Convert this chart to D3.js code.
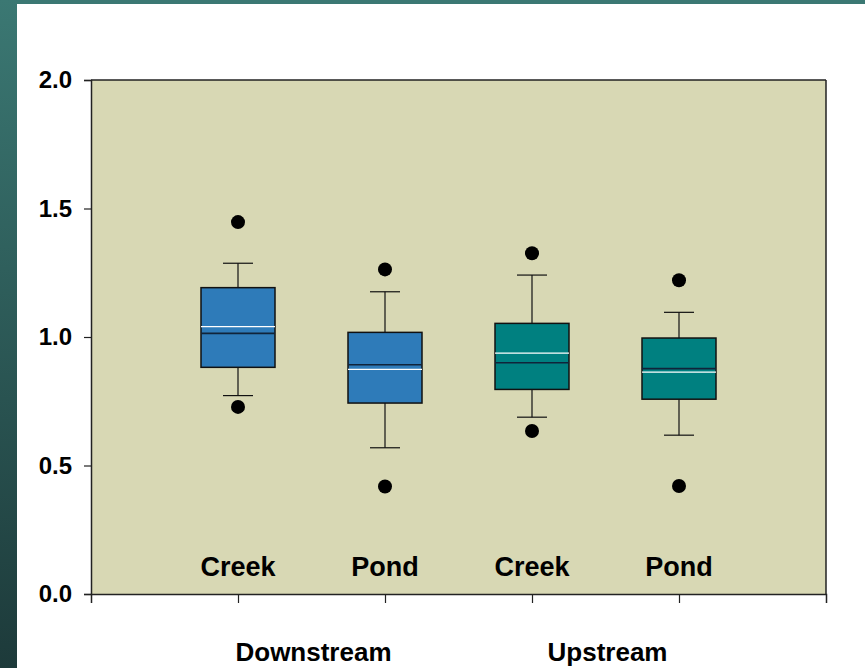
<!DOCTYPE html>
<html>
<head>
<meta charset="utf-8">
<script src="https://cdn.jsdelivr.net/npm/d3@7"></script>
<style>
  html, body { margin: 0; padding: 0; background: #ffffff; }
  svg { display: block; }
  text { font-family: Arial, "Liberation Sans", Helvetica, sans-serif; font-weight: bold; fill: #000; }
</style>
</head>
<body>
<svg id="chart" width="865" height="668"></svg>
<script>
// Site categories, in drawing order
const categories = ["Creek", "Pond", "Creek", "Pond"];
const groups = ["Downstream", "Upstream"];
const boxColors = ["#2e7bb9", "#2e7bb9", "#008080", "#008080"];

// Box statistics per category
const whiskerLow  = [0.772, 0.569, 0.688, 0.618];
const q1          = [0.882, 0.743, 0.796, 0.758];
const medians     = [1.014, 0.892, 0.900, 0.877];
const means       = [1.040, 0.874, 0.937, 0.863];
const q3          = [1.192, 1.018, 1.053, 0.996];
const whiskerHigh = [1.287, 1.176, 1.241, 1.096];
const outlierLow  = [0.728, 0.418, 0.634, 0.420];
const outlierHigh = [1.447, 1.263, 1.326, 1.221];

const yTicks = [0, 0.5, 1.0, 1.5, 2.0];

const svg = d3.select("#chart");
const W = 865, H = 668;

// Slide-style frame: teal strip on the left and top edges
const defs = svg.append("defs");
const grad = defs.append("linearGradient").attr("id", "edge").attr("x1", 0).attr("y1", 0).attr("x2", 0).attr("y2", 1);
grad.append("stop").attr("offset", "0%").attr("stop-color", "#3b7873");
grad.append("stop").attr("offset", "100%").attr("stop-color", "#1d3a3a");
svg.append("rect").attr("x", 0).attr("y", 0).attr("width", W).attr("height", 4).attr("fill", "#3b7873");
svg.append("rect").attr("x", 0).attr("y", 0).attr("width", 17).attr("height", H).attr("fill", "url(#edge)");

const plot = { left: 91, right: 826, top: 80, bottom: 594 };

const x = d3.scaleLinear().domain([0, categories.length + 1]).range([plot.left, plot.right]);
const y = d3.scaleLinear().domain([0, 2]).range([plot.bottom, plot.top]);

// Plot background
svg.append("rect")
  .attr("x", plot.left).attr("y", plot.top)
  .attr("width", plot.right - plot.left).attr("height", plot.bottom - plot.top)
  .attr("fill", "#d8d8b4");

const data = categories.map((c, i) => ({
  cat: c, i: i + 1, color: boxColors[i],
  wl: whiskerLow[i], q1: q1[i], med: medians[i], mean: means[i], q3: q3[i], wh: whiskerHigh[i],
  ol: outlierLow[i], oh: outlierHigh[i]
}));

const boxW = 74, capW = 30;
const g = svg.append("g");

const box = g.selectAll("g.box").data(data).join("g").attr("class", "box");

// Whiskers
box.append("line")
  .attr("x1", d => x(d.i)).attr("x2", d => x(d.i))
  .attr("y1", d => y(d.wh)).attr("y2", d => y(d.q3))
  .attr("stroke", "#111").attr("stroke-width", 1.2);
box.append("line")
  .attr("x1", d => x(d.i)).attr("x2", d => x(d.i))
  .attr("y1", d => y(d.q1)).attr("y2", d => y(d.wl))
  .attr("stroke", "#111").attr("stroke-width", 1.2);
// Whisker caps
box.append("line")
  .attr("x1", d => x(d.i) - capW / 2).attr("x2", d => x(d.i) + capW / 2)
  .attr("y1", d => y(d.wh)).attr("y2", d => y(d.wh))
  .attr("stroke", "#111").attr("stroke-width", 1.2);
box.append("line")
  .attr("x1", d => x(d.i) - capW / 2).attr("x2", d => x(d.i) + capW / 2)
  .attr("y1", d => y(d.wl)).attr("y2", d => y(d.wl))
  .attr("stroke", "#111").attr("stroke-width", 1.2);

// Boxes
box.append("rect")
  .attr("x", d => x(d.i) - boxW / 2).attr("width", boxW)
  .attr("y", d => y(d.q3)).attr("height", d => y(d.q1) - y(d.q3))
  .attr("fill", d => d.color).attr("stroke", "#111").attr("stroke-width", 1.5);

// Median (dark) and mean (white) lines
box.append("line")
  .attr("x1", d => x(d.i) - boxW / 2).attr("x2", d => x(d.i) + boxW / 2)
  .attr("y1", d => y(d.med)).attr("y2", d => y(d.med))
  .attr("stroke", "#10243a").attr("stroke-width", 1.6);
box.append("line")
  .attr("x1", d => x(d.i) - boxW / 2).attr("x2", d => x(d.i) + boxW / 2)
  .attr("y1", d => y(d.mean)).attr("y2", d => y(d.mean))
  .attr("stroke", "#ffffff").attr("stroke-width", 1.2);

// Outliers
box.append("circle").attr("cx", d => x(d.i)).attr("cy", d => y(d.oh)).attr("r", 7).attr("fill", "#000");
box.append("circle").attr("cx", d => x(d.i)).attr("cy", d => y(d.ol)).attr("r", 7).attr("fill", "#000");

// Category labels inside the plot
box.append("text")
  .attr("x", d => x(d.i)).attr("y", 576)
  .attr("text-anchor", "middle").attr("font-size", 27)
  .text(d => d.cat);

// Frame: top and right borders
svg.append("line").attr("x1", plot.left).attr("x2", plot.right).attr("y1", plot.top).attr("y2", plot.top)
  .attr("stroke", "#222").attr("stroke-width", 1.5);
svg.append("line").attr("x1", plot.right).attr("x2", plot.right).attr("y1", plot.top).attr("y2", plot.bottom)
  .attr("stroke", "#222").attr("stroke-width", 1.5);

// Y axis
const yAxis = svg.append("g").attr("transform", `translate(${plot.left},0)`)
  .call(d3.axisLeft(y).tickValues(yTicks).tickFormat(d3.format(".1f")).tickSize(7).tickPadding(12));
yAxis.select(".domain").attr("stroke", "#222").attr("stroke-width", 1.5);
yAxis.selectAll(".tick line").attr("stroke", "#222").attr("stroke-width", 1.2);
yAxis.selectAll(".tick text").attr("font-size", 24).attr("font-weight", "bold").attr("fill", "#000");

// X axis (ticks below the plot)
const xAxis = svg.append("g").attr("transform", `translate(0,${plot.bottom})`)
  .call(d3.axisBottom(x).tickValues(d3.range(1, categories.length + 1)).tickFormat("").tickSize(9).tickSizeOuter(9));
xAxis.select(".domain").attr("stroke", "#222").attr("stroke-width", 1.5);
xAxis.selectAll(".tick line").attr("stroke", "#222").attr("stroke-width", 1.2);

// Group labels under the axis
svg.selectAll("text.group").data(groups).join("text")
  .attr("class", "group")
  .attr("x", (d, k) => (x(2 * k + 1) + x(2 * k + 2)) / 2 + 2)
  .attr("y", 661)
  .attr("text-anchor", "middle").attr("font-size", 26)
  .text(d => d);
</script>
</body>
</html>
